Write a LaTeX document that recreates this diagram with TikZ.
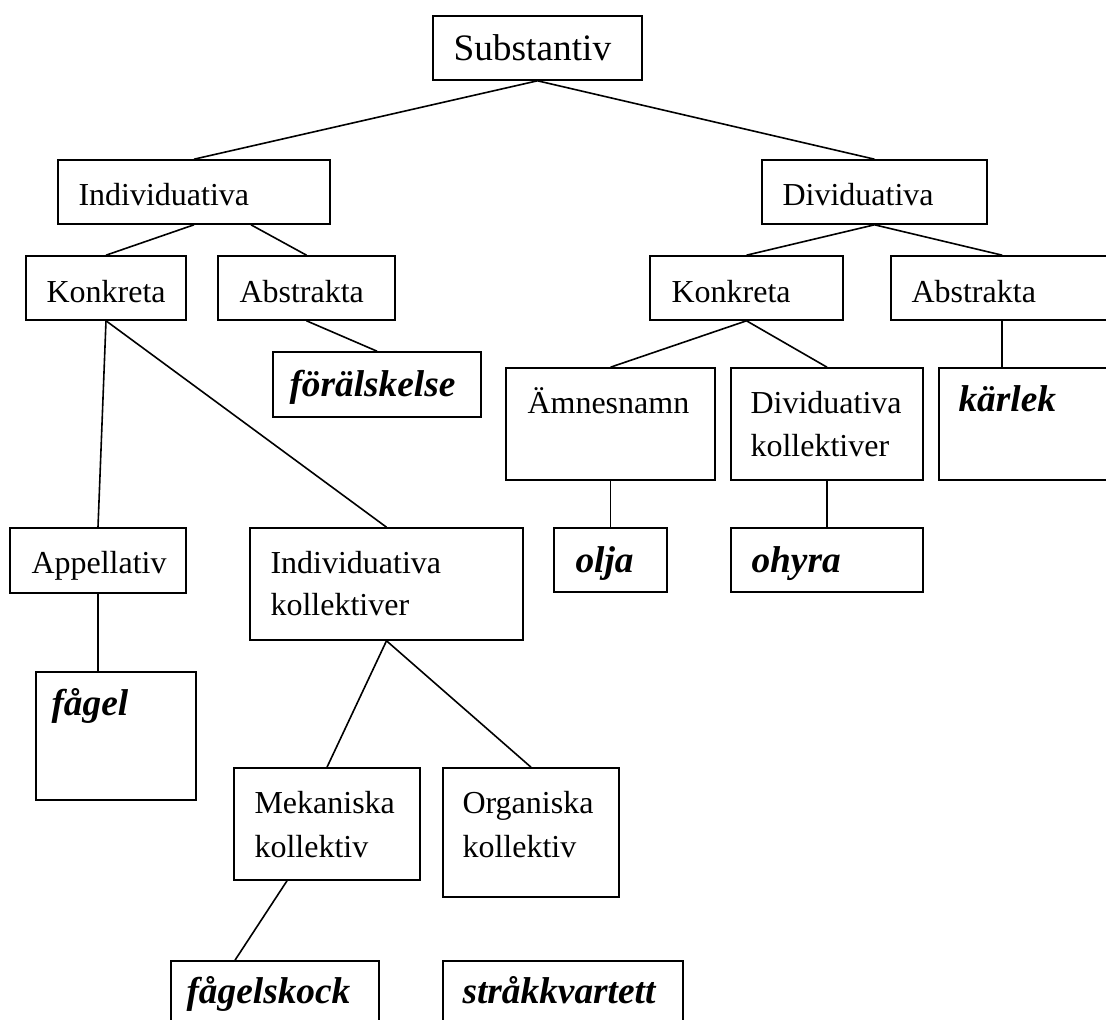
\documentclass[tikz,border=0pt]{standalone}
\usepackage{fontspec}
\setmainfont{Liberation Serif}
\usetikzlibrary{fit,calc}
\tikzset{
  box/.style={draw, line width=0.6pt, inner sep=0pt, rectangle},
  txt/.style={anchor=base west, inner sep=0pt, font=\fontsize{12}{14}\selectfont},
  bigtxt/.style={anchor=base west, inner sep=0pt, font=\fontsize{14}{16}\selectfont},
  ex/.style={anchor=base west, inner sep=0pt, font=\fontsize{14}{16}\selectfont\bfseries\itshape},
  link/.style={line width=0.6pt}
}
\begin{document}
\begin{tikzpicture}[x=0.375pt, y=-0.375pt]
\useasboundingbox (0,0) rectangle (1106,1020);
\clip (0,0) rectangle (1106,1020);
% boxes
\node[box, fit={(433,16) (642,80)}] (subst) {};
\node[box, fit={(58,160) (330,224)}] (indiv) {};
\node[box, fit={(762,160) (987,224)}] (divid) {};
\node[box, fit={(26,256) (186,320)}] (konkL) {};
\node[box, fit={(218,256) (395,320)}] (abstrL) {};
\node[box, fit={(650,256) (843,320)}] (konkR) {};
\node[box, fit={(891,256) (1120,320)}] (abstrR) {};
\node[box, fit={(273,352) (481,417)}] (forl) {};
\node[box, fit={(506,368) (715,480)}] (amnes) {};
\node[box, fit={(731,368) (923,480)}] (divkoll) {};
\node[box, fit={(939,368) (1120,480)}] (karlek) {};
\node[box, fit={(554,528) (667,592)}] (olja) {};
\node[box, fit={(731,528) (923,592)}] (ohyra) {};
\node[box, fit={(10,528) (186,593)}] (app) {};
\node[box, fit={(250,528) (523,640)}] (indkoll) {};
\node[box, fit={(36,672) (196,800)}] (fagel) {};
\node[box, fit={(234,768) (420,880)}] (mek) {};
\node[box, fit={(443,768) (619,897)}] (org) {};
\node[box, fit={(171,961) (379,1040)}] (fskock) {};
\node[box, fit={(443,961) (683,1040)}] (strak) {};
% texts
\node[bigtxt] (t-subst) at (453,61) {Substantiv};
\node[txt] (t-indiv) at (78,205) {Individuativa};
\node[txt] (t-divid) at (782,205) {Dividuativa};
\node[txt] (t-konkL) at (46,302) {Konkreta};
\node[txt] (t-abstrL) at (239,302) {Abstrakta};
\node[txt] (t-konkR) at (671,302) {Konkreta};
\node[txt] (t-abstrR) at (911,302) {Abstrakta};
\node[ex] (t-forl) at (289,396) {förälskelse};
\node[txt] (t-amnes) at (527,413) {Ämnesnamn};
\node[txt] (t-divkoll1) at (750,413) {Dividuativa};
\node[txt] (t-divkoll2) at (750,456) {kollektiver};
\node[ex] (t-karlek) at (958,411) {kärlek};
\node[ex] (t-olja) at (575,572) {olja};
\node[ex] (t-ohyra) at (751,572) {ohyra};
\node[txt] (t-app) at (31,573) {Appellativ};
\node[txt] (t-indkoll1) at (270,573) {Individuativa};
\node[txt] (t-indkoll2) at (270,615) {kollektiver};
\node[ex] (t-fagel) at (51,715) {fågel};
\node[txt] (t-mek1) at (254,813) {Mekaniska};
\node[txt] (t-mek2) at (254,857) {kollektiv};
\node[txt] (t-org1) at (462,813) {Organiska};
\node[txt] (t-org2) at (462,857) {kollektiv};
\node[ex] (t-fskock) at (186,1003) {fågelskock};
\node[ex] (t-strak) at (462,1003) {stråkkvartett};
% connectors
\draw[link] (subst.south) -- (indiv.north);
\draw[link] (subst.south) -- (divid.north);
\draw[link] (indiv.south) -- (konkL.north);
\draw[link] ($(indiv.south)+(57,0)$) -- (abstrL.north);
\draw[link] (divid.south) -- (konkR.north);
\coordinate (abR) at ($(abstrR.north west)+(112,0)$);
\draw[link] (divid.south) -- (abR);
\draw[link] (konkL.south) -- (app.north);
\draw[link] (konkL.south) -- (indkoll.north);
\draw[link] (abstrL.south) -- (forl.north);
\draw[link] (konkR.south) -- (amnes.north);
\draw[link] (konkR.south) -- (divkoll.north);
\draw[link] (abR |- abstrR.south) -- (abR |- karlek.north);
\draw[link] (amnes.south) -- (olja.north);
\draw[link] (divkoll.south) -- (ohyra.north);
\draw[link] (app.south) -- (app.south |- fagel.north);
\draw[link] (indkoll.south) -- (mek.north);
\draw[link] (indkoll.south) -- (org.north);
\draw[link] ($(mek.south)+(-40,0)$) -- ($(fskock.north)+(-40,0)$);
\draw[link] ($(org.south)+(40,0)$) -- ($(org.south)+(40,0)$ |- strak.north);
\end{tikzpicture}
\end{document}
